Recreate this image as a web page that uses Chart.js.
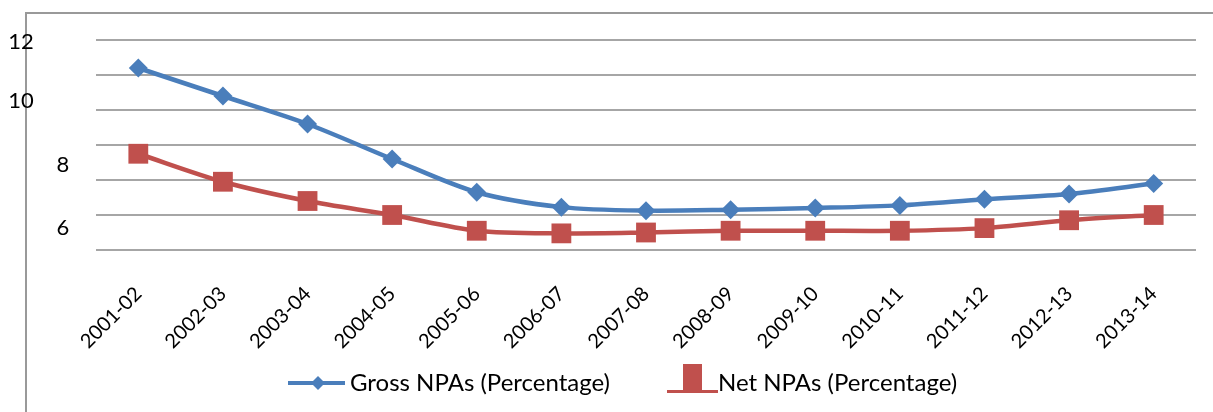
<!DOCTYPE html>
<html>
<head>
<meta charset="utf-8">
<script src="https://cdn.jsdelivr.net/npm/chart.js@4"></script>
<style>
  html, body { margin: 0; padding: 0; background: #fff; }
  #wrap { position: relative; width: 1213px; height: 412px; }
</style>
</head>
<body>
<div id="wrap"><canvas id="npaChart" width="1213" height="412"></canvas></div>
<script>
var years = ["2001-02","2002-03","2003-04","2004-05","2005-06","2006-07","2007-08",
             "2008-09","2009-10","2010-11","2011-12","2012-13","2013-14"];
var grossNPA = [10.4, 8.8, 7.2, 5.2, 3.3, 2.45, 2.25, 2.3, 2.4, 2.55, 2.9, 3.2, 3.8];
var netNPA = [5.5, 3.9, 2.8, 2.0, 1.1, 0.95, 1.0, 1.1, 1.1, 1.1, 1.25, 1.7, 2.0];
var yTickLabels = ["12", "10", "8", "6"];

var blue = "#4a7ebb";
var red = "#c0504d";
var grey = "#a6a6a6";

// legend icons drawn like the spreadsheet legend (line + marker)
function drawGrossIcon(g, x, y) {
  g.fillStyle = blue;
  g.fillRect(x, y - 2, 57, 4);
  g.beginPath();
  g.moveTo(x + 30, y - 7); g.lineTo(x + 37, y); g.lineTo(x + 30, y + 7); g.lineTo(x + 23, y);
  g.closePath(); g.fill();
}
function drawNetIcon(g, x, y) {
  g.fillStyle = red;
  g.fillRect(x + 16, y - 19, 19, 27);
  g.fillRect(x, y + 7, 51, 3);
}

var frame = {
  id: "frame",
  beforeDraw: function(chart) {
    var ctx = chart.ctx;
    ctx.save();
    ctx.fillStyle = "#fff";
    ctx.fillRect(0, 0, chart.width, chart.height);
    ctx.strokeStyle = "#999";
    ctx.lineWidth = 2;
    ctx.beginPath();
    ctx.moveTo(26, chart.height);
    ctx.lineTo(26, 13);
    ctx.lineTo(chart.width, 13);
    ctx.stroke();
    ctx.restore();
  },
  afterDraw: function(chart) {
    var ctx = chart.ctx, y = chart.scales.y;
    // y labels sit where they sit in the source picture
    var at = [11.9, 8.5, 4.85, 1.25];
    var xs = [21, 21, 63, 63];
    ctx.save();
    ctx.fillStyle = "#000";
    ctx.font = "22px Lato";
    ctx.textAlign = "center";
    ctx.textBaseline = "middle";
    for (var i = 0; i < yTickLabels.length; i++) {
      ctx.fillText(yTickLabels[i], xs[i], y.getPixelForValue(at[i]));
    }
    // legend
    var iconX = [288, 667];
    var textX = [350, 718];
    var ly = 383;
    var icons = [drawGrossIcon, drawNetIcon];
    ctx.font = "24px Lato";
    ctx.textAlign = "left";
    chart.data.datasets.forEach(function(ds, i) {
      icons[i](ctx, iconX[i], ly);
      ctx.fillStyle = "#000";
      ctx.fillText(ds.label, textX[i], ly);
    });
    ctx.restore();
  }
};

var ctx = document.getElementById("npaChart");
var npaChart = new Chart(ctx, {
  type: "line",
  data: {
    labels: years,
    datasets: [{
      label: "Gross NPAs (Percentage)",
      data: grossNPA,
      borderColor: blue,
      backgroundColor: blue,
      borderWidth: 4.5,
      pointStyle: "rectRot",
      pointRadius: 9.5,
      pointBorderWidth: 0,
      tension: 0.3
    }, {
      label: "Net NPAs (Percentage)",
      data: netNPA,
      borderColor: red,
      backgroundColor: red,
      borderWidth: 4.5,
      pointStyle: "rect",
      pointRadius: 14,
      pointBorderWidth: 0,
      tension: 0.3
    }]
  },
  options: {
    responsive: false,
    animation: false,
    layout: { padding: { top: 40, right: 17, bottom: 42, left: 0 } },
    plugins: {
      tooltip: { enabled: false },
      legend: { display: false }
    },
    scales: {
      x: {
        offset: true,
        grid: { display: false },
        border: { display: false },
        ticks: {
          color: "#000",
          font: { family: "Lato", size: 20 },
          minRotation: 45,
          maxRotation: 45,
          padding: 24
        },
        afterFit: function(s) { s.height = 120; }
      },
      y: {
        min: 0,
        max: 12,
        ticks: { stepSize: 2, display: false },
        grid: { color: grey, lineWidth: 2, drawTicks: false },
        border: { display: false },
        afterFit: function(s) { s.width = 96; }
      }
    }
  },
  plugins: [frame]
});
</script>
</body>
</html>
